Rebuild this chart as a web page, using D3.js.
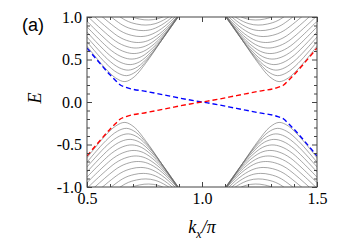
<!DOCTYPE html>
<html><head><meta charset="utf-8">
<script src="https://cdn.jsdelivr.net/npm/d3@7/dist/d3.min.js"></script>
<style>body{margin:0;background:#fff}svg{display:block}</style>
</head><body>
<svg id="chart" width="354" height="250"></svg>
<script>
// ---- data ----
const xTickValues = [0.5, 1.0, 1.5];
const xTickLabels = ["0.5", "1.0", "1.5"];
const yTickValues = [-1.0, -0.5, 0.0, 0.5, 1.0];
const yTickLabels = ["-1.0", "-0.5", "0.0", "0.5", "1.0"];
const xMinorTicks = [0.6, 0.7, 0.8, 0.9, 1.1, 1.2, 1.3, 1.4];
const yMinorTicks = [-0.9, -0.8, -0.7, -0.6, -0.4, -0.3, -0.2, -0.1, 0.1, 0.2, 0.3, 0.4, 0.6, 0.7, 0.8, 0.9];

// bulk bands in the upper-left valley, [kx/pi, E]; the other three valleys are mirror images
const band0  = [[0.5,0.656],[0.575,0.41],[0.625,0.282],[0.665,0.24],[0.705,0.295],[0.755,0.455],[0.815,0.688],[0.885,0.976],[0.915,1.10]];
const band1  = [[0.5,0.708],[0.582,0.455],[0.632,0.344],[0.672,0.31],[0.712,0.355],[0.762,0.496],[0.822,0.716],[0.892,0.996],[0.922,1.12]];
const band2  = [[0.5,0.764],[0.59,0.502],[0.64,0.403],[0.68,0.375],[0.72,0.413],[0.77,0.539],[0.83,0.746],[0.90,1.018],[0.93,1.14]];
const band3  = [[0.5,0.823],[0.598,0.552],[0.648,0.464],[0.688,0.44],[0.728,0.472],[0.778,0.586],[0.838,0.781],[0.908,1.043],[0.938,1.16]];
const band4  = [[0.5,0.884],[0.606,0.605],[0.656,0.526],[0.696,0.505],[0.736,0.533],[0.786,0.636],[0.846,0.819],[0.916,1.072],[0.946,1.18]];
const band5  = [[0.5,0.949],[0.615,0.66],[0.665,0.589],[0.705,0.57],[0.745,0.595],[0.795,0.689],[0.855,0.861],[0.925,1.104],[0.955,1.21]];
const band6  = [[0.5,1.015],[0.624,0.717],[0.674,0.652],[0.714,0.635],[0.754,0.658],[0.804,0.744],[0.864,0.905],[0.934,1.139]];
const band7  = [[0.5,1.085],[0.634,0.775],[0.684,0.715],[0.724,0.70],[0.764,0.721],[0.814,0.80],[0.874,0.952],[0.944,1.177]];
const band8  = [[0.5,1.159],[0.644,0.839],[0.694,0.784],[0.734,0.77],[0.774,0.789],[0.824,0.862],[0.884,1.004],[0.954,1.22]];
const band9  = [[0.5,1.236],[0.655,0.904],[0.705,0.853],[0.745,0.84],[0.785,0.857],[0.835,0.925],[0.895,1.059],[0.95,1.2]];
const band10 = [[0.55,1.2],[0.666,0.964],[0.716,0.917],[0.756,0.905],[0.796,0.921],[0.846,0.984],[0.906,1.111]];
const band11 = [[0.6,1.148],[0.678,1.021],[0.728,0.976],[0.768,0.965],[0.808,0.98],[0.858,1.04],[0.9,1.12]];
const bulkBands = [band0, band1, band2, band3, band4, band5, band6, band7, band8, band9, band10, band11];

// edge states
const edgeK    = [0.5, 0.556, 0.60, 0.622, 0.645, 0.67, 0.76, 0.85, 0.93, 1.0, 1.07, 1.15, 1.24, 1.33, 1.355, 1.378, 1.40, 1.444, 1.5];
const blueEdge = [0.635, 0.455, 0.32, 0.26, 0.20, 0.172, 0.123, 0.075, 0.032, 0.0, -0.032, -0.075, -0.123, -0.172, -0.20, -0.26, -0.32, -0.455, -0.635];
const redEdge  = [-0.635, -0.455, -0.32, -0.26, -0.20, -0.172, -0.123, -0.075, -0.032, 0.0, 0.032, 0.075, 0.123, 0.172, 0.20, 0.26, 0.32, 0.455, 0.635];

// ---- layout ----
const L = 87, R = 317, T = 17, B = 187;
const svg = d3.select("#chart");
const x = d3.scaleLinear().domain([0.5, 1.5]).range([L, R]);
const y = d3.scaleLinear().domain([-1, 1]).range([B, T]);

svg.append("defs").append("clipPath").attr("id", "clip")
  .append("rect").attr("x", L).attr("y", T).attr("width", R - L).attr("height", B - T);

const plot = svg.append("g").attr("clip-path", "url(#clip)");

const line = d3.line().x(d => x(d[0])).y(d => y(d[1])).curve(d3.curveCatmullRom.alpha(0.5));
const mirrors = [[1, 1], [-1, 1], [1, -1], [-1, -1]];
mirrors.forEach(([sk, se]) => {
  bulkBands.forEach(b => {
    const pts = b.map(([k, e]) => [sk > 0 ? k : 2 - k, se * e]);
    plot.append("path").attr("d", line(pts))
      .attr("fill", "none").attr("stroke", "#6a6a6a").attr("stroke-width", 0.6);
  });
});

const eline = d3.line().x((d, i) => x(edgeK[i])).y(d => y(d)).curve(d3.curveMonotoneX);
plot.append("path").attr("d", eline(blueEdge)).attr("fill", "none")
  .attr("stroke", "#0000ff").attr("stroke-width", 1.4).attr("stroke-dasharray", "5,3");
plot.append("path").attr("d", eline(redEdge)).attr("fill", "none")
  .attr("stroke", "#ff0000").attr("stroke-width", 1.4).attr("stroke-dasharray", "5,3");

// ---- axes ----
const axisColor = "#444";
function styleAxis(g) {
  g.select(".domain").remove();
  g.selectAll("line").attr("stroke", axisColor).attr("stroke-width", 1);
  g.selectAll("text").attr("font-family", "'Liberation Serif', 'Times New Roman', serif")
    .attr("font-size", 16).attr("fill", "#000");
}
const fmtX = (d) => xTickLabels[xTickValues.indexOf(d)];
const fmtY = (d) => yTickLabels[yTickValues.indexOf(d)];

svg.append("g").attr("transform", `translate(0,${B})`)
  .call(d3.axisBottom(x).tickValues(xTickValues).tickFormat(fmtX).tickSize(-5).tickPadding(6)).call(styleAxis);
svg.append("g").attr("transform", `translate(0,${B})`)
  .call(d3.axisBottom(x).tickValues(xMinorTicks).tickFormat("").tickSize(-3)).call(styleAxis);
svg.append("g").attr("transform", `translate(0,${T})`)
  .call(d3.axisTop(x).tickValues(xTickValues).tickFormat("").tickSize(-5)).call(styleAxis);
svg.append("g").attr("transform", `translate(0,${T})`)
  .call(d3.axisTop(x).tickValues(xMinorTicks).tickFormat("").tickSize(-3)).call(styleAxis);

svg.append("g").attr("transform", `translate(${L},0)`)
  .call(d3.axisLeft(y).tickValues(yTickValues).tickFormat(fmtY).tickSize(-5).tickPadding(5)).call(styleAxis);
svg.append("g").attr("transform", `translate(${L},0)`)
  .call(d3.axisLeft(y).tickValues(yMinorTicks).tickFormat("").tickSize(-3)).call(styleAxis);
svg.append("g").attr("transform", `translate(${R},0)`)
  .call(d3.axisRight(y).tickValues(yTickValues).tickFormat("").tickSize(-5)).call(styleAxis);
svg.append("g").attr("transform", `translate(${R},0)`)
  .call(d3.axisRight(y).tickValues(yMinorTicks).tickFormat("").tickSize(-3)).call(styleAxis);

svg.append("rect").attr("x", L).attr("y", T).attr("width", R - L).attr("height", B - T)
  .attr("fill", "none").attr("stroke", axisColor).attr("stroke-width", 1);

// ---- labels ----
const xl = svg.append("text").attr("x", 202).attr("y", 233).attr("text-anchor", "middle")
  .attr("font-family", "'Liberation Serif', 'Times New Roman', serif").attr("font-size", 18).attr("font-style", "italic");
xl.append("tspan").text("k");
xl.append("tspan").attr("font-size", 12).attr("dy", 5).text("x");
xl.append("tspan").attr("dy", -5).text("/\u03C0");

svg.append("text").attr("transform", "translate(41,98) rotate(-90)").attr("text-anchor", "middle")
  .attr("font-family", "'Liberation Serif', 'Times New Roman', serif").attr("font-size", 18).attr("font-style", "italic")
  .text("E");

svg.append("text").attr("x", 22).attr("y", 31)
  .attr("font-family", "'Liberation Sans', Arial, sans-serif").attr("font-size", 18).text("(a)");
</script>
</body></html>
